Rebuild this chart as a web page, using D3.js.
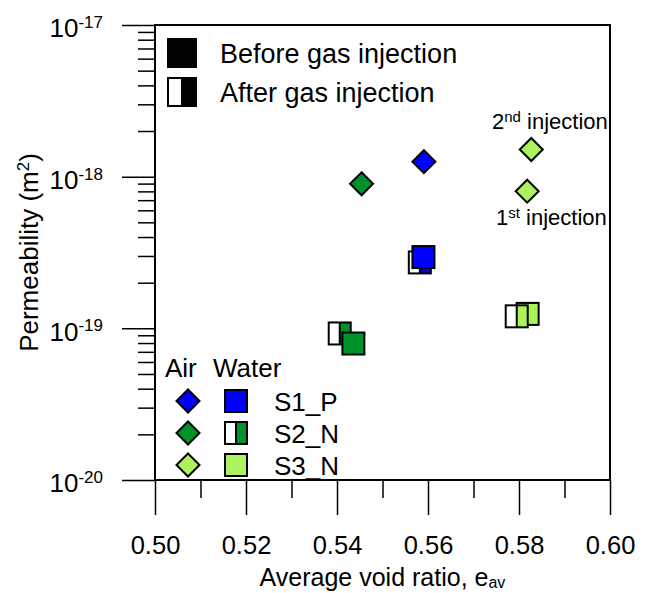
<!DOCTYPE html>
<html><head><meta charset="utf-8">
<script src="https://cdn.jsdelivr.net/npm/d3@7"></script>
<style>body{margin:0;background:#fff}svg{display:block;font-family:"Liberation Sans",Arial,sans-serif}</style>
</head><body>
<svg id="c" width="650" height="593"></svg>
<script>
// ---- data ----
const samples = ["S1_P", "S2_N", "S3_N"];
const sampleColors = ["#0000ff", "#00922a", "#abf25c"];
const airSample = ["S1_P", "S2_N", "S3_N", "S3_N"];
const airVoid   = [0.5591, 0.5454, 0.5818, 0.5827];
const airPerm   = [1.256e-18, 8.97e-19, 8.02e-19, 1.51e-18];
const waterSample = ["S1_P", "S1_P", "S2_N", "S2_N", "S3_N", "S3_N"];
const waterState  = ["after", "before", "after", "before", "before", "after"];
const waterVoid   = [0.5582, 0.5590, 0.5406, 0.5436, 0.5819, 0.5795];
const waterPerm   = [2.72e-19, 2.95e-19, 9.25e-20, 7.94e-20, 1.245e-19, 1.20e-19];
const xTicks = [0.50, 0.52, 0.54, 0.56, 0.58, 0.60];
const xMinor = [0.51, 0.53, 0.55, 0.57, 0.59];
const yTicks = [1e-20, 1e-19, 1e-18, 1e-17];
const yTickExp = ["-20", "-19", "-18", "-17"];
const stateLabels = ["Before gas injection", "After gas injection"];
const annoText = [["2", "nd", " injection"], ["1", "st", " injection"]];

const svg = d3.select("#c");
const L = 155, R = 610, T = 25, B = 480;
const x = d3.scaleLinear().domain([0.5, 0.6]).range([L, R]);
const y = d3.scaleLog().domain([1e-20, 1e-17]).range([B, T]);
const color = d3.scaleOrdinal().domain(samples).range(sampleColors);

const yMinor = [];
for (let e = -20; e < -17; e++) for (let m = 2; m <= 9; m++) yMinor.push(m * Math.pow(10, e));

// axes
const gx = svg.append("g").attr("transform", `translate(0,${B})`)
  .call(d3.axisBottom(x).tickValues(xTicks).tickSize(35).tickPadding(21).tickFormat(d3.format(".2f")));
gx.selectAll("text").attr("font-size", 25.5).attr("fill", "#000").attr("font-family", null);
svg.append("g").attr("transform", `translate(0,${B})`)
  .call(d3.axisBottom(x).tickValues(xMinor).tickSize(18).tickFormat(""));

const gy = svg.append("g").attr("transform", `translate(${L},0)`)
  .call(d3.axisLeft(y).tickValues(yTicks).tickSize(33).tickPadding(19).tickFormat(""));
gy.selectAll(".tick text").each(function(d, i) {
  const t = d3.select(this).attr("font-size", 26).attr("fill", "#000").attr("dy", "0.45em").attr("font-family", null);
  t.append("tspan").text("10");
  t.append("tspan").attr("dy", "-0.55em").attr("font-size", 17).text(yTickExp[i]);
});
svg.append("g").attr("transform", `translate(${L},0)`)
  .call(d3.axisLeft(y).tickValues(yMinor).tickSize(17).tickFormat(""));

svg.selectAll(".domain").remove();
svg.selectAll(".tick line").attr("stroke", "#000").attr("stroke-width", 1.5);

// frame
svg.append("rect").attr("x", L).attr("y", T).attr("width", R - L).attr("height", B - T)
  .attr("fill", "none").attr("stroke", "#000").attr("stroke-width", 2);

// axis titles
const xt = svg.append("text").attr("x", (L + R) / 2).attr("y", 586).attr("text-anchor", "middle").attr("font-size", 25);
xt.append("tspan").text("Average void ratio, e");
xt.append("tspan").attr("dy", "0.1em").attr("font-size", 16).text("av");

const yt = svg.append("text").attr("transform", `translate(38,${(T + B) / 2}) rotate(-90)`)
  .attr("text-anchor", "middle").attr("font-size", 26);
yt.append("tspan").text("Permeability (m");
yt.append("tspan").attr("dy", "-0.55em").attr("font-size", 17).text("2");
yt.append("tspan").attr("dy", "0.37em").text(")");

// marker helpers
const S = 22;
function square(g, cx, cy, fill, half, s) {
  s = s || S;
  g.append("rect").attr("x", cx - s / 2).attr("y", cy - s / 2).attr("width", s).attr("height", s)
    .attr("fill", half ? "#fff" : fill);
  if (half) {
    g.append("rect").attr("x", cx).attr("y", cy - s / 2).attr("width", s / 2).attr("height", s).attr("fill", fill);
    g.append("line").attr("x1", cx).attr("x2", cx).attr("y1", cy - s / 2).attr("y2", cy + s / 2)
      .attr("stroke", "#000").attr("stroke-width", 2);
  }
  g.append("rect").attr("x", cx - s / 2).attr("y", cy - s / 2).attr("width", s).attr("height", s)
    .attr("fill", "none").attr("stroke", "#000").attr("stroke-width", 2);
}
function diamond(g, cx, cy, fill) {
  const r = 11.5;
  g.append("path").attr("d", `M${cx},${cy - r}L${cx + r},${cy}L${cx},${cy + r}L${cx - r},${cy}Z`)
    .attr("fill", fill).attr("stroke", "#000").attr("stroke-width", 2).attr("stroke-linejoin", "miter");
}

// data marks
const gm = svg.append("g");
waterVoid.forEach((v, i) => square(gm, x(v), y(waterPerm[i]), color(waterSample[i]), waterState[i] === "after"));
airVoid.forEach((v, i) => diamond(gm, x(v), y(airPerm[i]), color(airSample[i])));

// annotations (2nd / 1st injection)
const annoPos = [[492, 129], [496, 225]];
annoText.forEach((a, i) => {
  const t = svg.append("text").attr("x", annoPos[i][0]).attr("y", annoPos[i][1]).attr("font-size", 22);
  t.append("tspan").text(a[0]);
  t.append("tspan").attr("dy", "-0.5em").attr("font-size", 15).text(a[1]);
  t.append("tspan").attr("dy", "0.34em").text(a[2]);
});

// top legend
const lg = svg.append("g");
stateLabels.forEach((lab, i) => {
  const cy = 53 + i * 39;
  square(lg, 182, cy, "#000", i === 1, 28);
  lg.append("text").attr("x", 220).attr("y", cy + 10).attr("font-size", 27).text(lab);
});

// bottom legend
const lb = svg.append("g");
lb.append("text").attr("x", 165).attr("y", 377).attr("font-size", 26).text("Air");
lb.append("text").attr("x", 213).attr("y", 377).attr("font-size", 26).text("Water");
samples.forEach((s, i) => {
  const cy = 401 + i * 32;
  diamond(lb, 188, cy, color(s));
  square(lb, 236, cy, color(s), i === 1);
  lb.append("text").attr("x", 274).attr("y", cy + 10).attr("font-size", 26).text(s);
});
</script>
</body></html>
